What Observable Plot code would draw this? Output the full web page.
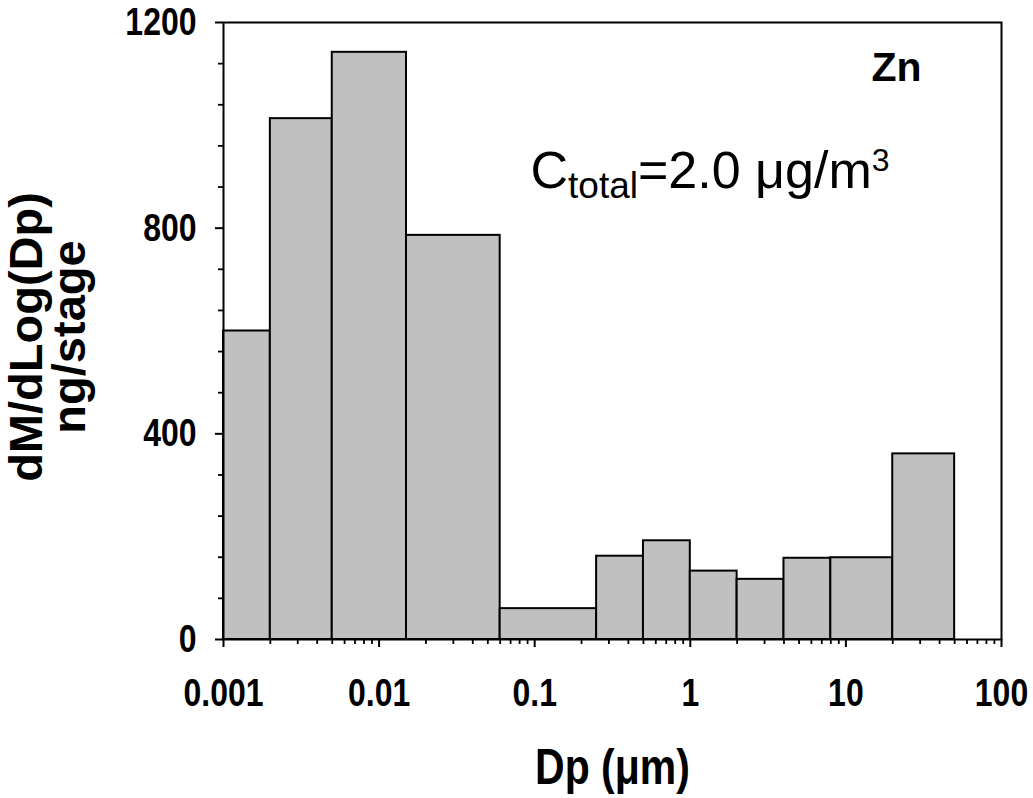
<!DOCTYPE html>
<html>
<head>
<meta charset="utf-8">
<script src="https://cdn.jsdelivr.net/npm/d3@7"></script>
<script src="https://cdn.jsdelivr.net/npm/@observablehq/plot@0.6"></script>
<style>
html, body { margin: 0; padding: 0; background: #ffffff; overflow: hidden; }
</style>
</head>
<body>
<div id="chart"></div>
<script>
// ---- data ----
const binLow  = [0.001, 0.002, 0.005, 0.015, 0.06, 0.25, 0.5, 1, 2, 4, 8, 20];
const binHigh = [0.002, 0.005, 0.015, 0.06, 0.25, 0.5, 1, 2, 4, 8, 20, 50];
const values  = [600, 1013, 1142, 786, 60, 162, 192, 133, 117, 158, 159, 361];

const xTicks = [0.001, 0.01, 0.1, 1, 10, 100];
const xTickLabels = ["0.001", "0.01", "0.1", "1", "10", "100"];
const yTicks = [0, 400, 800, 1200];
const yTickLabels = ["0", "400", "800", "1200"];
const minorMultipliers = [2, 3, 4, 5, 6, 7, 8, 9];
const yMinorStep = 80;

const xTitle = "Dp (μm)";
const yTitleLines = ["dM/dLog(Dp)", "ng/stage"];
const elementLabel = "Zn";
const concParts = [["C", "base"], ["total", "sub"], ["=2.0 μg/m", "base"], ["3", "sup"]];

// ---- derived tables ----
const bars = values.map((v, i) => ({lo: binLow[i], hi: binHigh[i], v}));
const xMinor = xTicks.slice(0, -1).flatMap(d => minorMultipliers.map(m => d * m));
const yMinor = d3.range(0, 1200 + 1, yMinorStep).filter(v => !yTicks.includes(v));
const concText = concParts.map(p => p[0]).join("");

// ---- fonts: the reference uses a narrow bold face for the numbers ----
const regular = "'Liberation Sans', Arial, Helvetica, sans-serif";
const narrow = "'Liberation Sans Narrow', 'Arial Narrow', 'Liberation Sans', Arial, sans-serif";
const ctx = document.createElement("canvas").getContext("2d");
ctx.font = "bold 40px 'Liberation Sans Narrow', monospace";
const wNarrow = ctx.measureText("0.001").width;
ctx.font = "bold 40px monospace";
const wMono = ctx.measureText("0.001").width;
const narrowScale = Math.abs(wNarrow - wMono) > 0.5 ? 1 : 0.82;

// ---- layout ----
const W = 1033, H = 798;
const plotTop = 22, plotBottom = 639, plotLeft = 223, plotRight = 1001;

const chart = Plot.plot({
  width: W,
  height: H,
  marginTop: plotTop,
  marginBottom: H - plotBottom,
  marginLeft: plotLeft,
  marginRight: W - plotRight,
  style: {fontFamily: regular, background: "white", color: "black", overflow: "visible"},
  x: {type: "log", domain: [0.001, 100]},
  y: {domain: [0, 1200]},
  marks: [
    Plot.rectY(bars, {x1: "lo", x2: "hi", y: "v", fill: "#c0c0c0", stroke: "black", strokeWidth: 2}),
    Plot.frame({stroke: "black", strokeWidth: 2}),
    Plot.axisX(xMinor, {tickSize: 5, tickFormat: () => "", strokeWidth: 1.8, label: null}),
    Plot.axisX(xTicks, {
      tickSize: 8, tickPadding: 31, strokeWidth: 2, label: null,
      tickFormat: d => xTickLabels[xTicks.indexOf(d)],
      fontFamily: narrow, fontSize: 39, fontWeight: "bold"
    }),
    Plot.axisY(yMinor, {tickSize: 5, tickFormat: () => "", strokeWidth: 1.8, label: null}),
    Plot.axisY(yTicks, {
      tickSize: 8, tickPadding: 19, strokeWidth: 2, label: null,
      tickFormat: d => yTickLabels[yTicks.indexOf(d)],
      fontFamily: narrow, fontSize: 39, fontWeight: "bold"
    }),
    Plot.text([xTitle], {
      frameAnchor: "bottom", dy: 783 - plotBottom, lineAnchor: "bottom",
      fontFamily: narrow, fontSize: 50, fontWeight: "bold", fill: "black"
    }),
    Plot.text([yTitleLines.join("\n")], {
      frameAnchor: "left", dx: 49 - plotLeft, dy: 6, rotate: -90,
      textAnchor: "middle", lineAnchor: "middle", lineHeight: 0.92,
      fontFamily: regular, fontSize: 47, fontWeight: "bold", fill: "black"
    }),
    Plot.text([elementLabel], {
      frameAnchor: "top-right", dx: 921 - plotRight, dy: 80 - plotTop,
      textAnchor: "end", lineAnchor: "bottom",
      fontFamily: regular, fontSize: 41, fontWeight: "bold", fill: "black"
    }),
    Plot.text([concText], {
      frameAnchor: "top-left", dx: 530 - plotLeft, dy: 187 - plotTop,
      textAnchor: "start", lineAnchor: "bottom",
      fontFamily: regular, fontSize: 52, fill: "black"
    })
  ]
});

// condense the narrow-face texts when no narrow font is installed
if (narrowScale !== 1) {
  d3.select(chart).selectAll("g")
    .filter(function() { return this.getAttribute("font-family") === narrow; })
    .selectAll("text")
    .each(function() {
      const tr = this.getAttribute("transform");
      if (tr) {
        this.setAttribute("transform", `${tr} scale(${narrowScale},1)`);
      } else {
        const x = +this.getAttribute("x") || 0;
        this.removeAttribute("x");
        this.setAttribute("transform", `translate(${x},0) scale(${narrowScale},1)`);
      }
    });
}

// rich text (subscript / superscript) for the concentration annotation
d3.select(chart).selectAll("text")
  .filter(function() { return this.textContent === concText; })
  .each(function() {
    const t = d3.select(this);
    t.text(null);
    let shift = 0;
    for (const [s, kind] of concParts) {
      const target = kind === "sub" ? 10 : kind === "sup" ? -17 : 0;
      const ts = t.append("tspan").text(s).attr("dy", target - shift);
      if (kind !== "base") ts.attr("font-size", kind === "sub" ? 37 : 32);
      shift = target;
    }
  });

document.getElementById("chart").appendChild(chart);
</script>
</body>
</html>
